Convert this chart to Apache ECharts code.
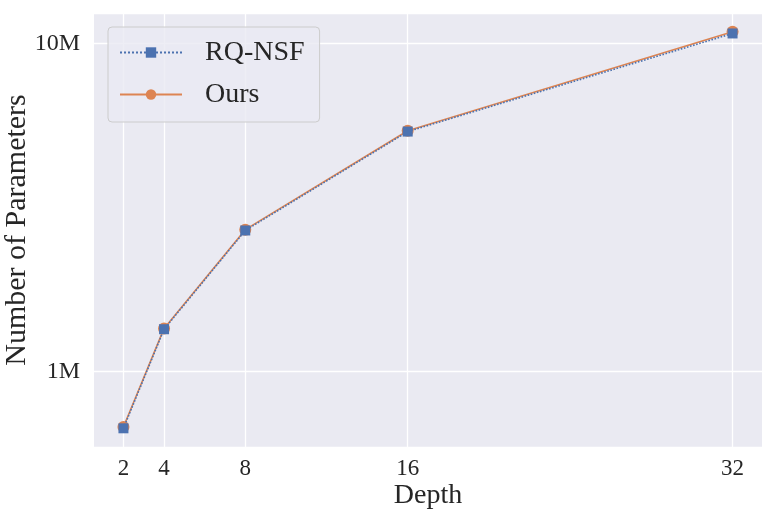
<!DOCTYPE html>
<html><head><meta charset="utf-8">
<script src="https://cdn.jsdelivr.net/npm/echarts@6/dist/echarts.min.js"></script>
<style>html,body{margin:0;padding:0;background:#fff}#c{width:775px;height:519px}</style>
</head><body><div id="c"></div>
<script>
const depths = [2, 4, 8, 16, 32];
const rqnsf = [670000, 1344000, 2690000, 5390000, 10740000];
const ours = [676000, 1352000, 2705000, 5420000, 10870000];
const xTicks = [2, 4, 8, 16, 32];
const yTicks = [1000000, 10000000];
const yTickLabels = ['1M', '10M'];
const seriesNames = ['RQ-NSF', 'Ours'];

const FONT = 'Liberation Serif';
const TXT = '#262626';
const chart = echarts.init(document.getElementById('c'), null, {renderer: 'canvas'});

function pairs(vals) { return depths.map((d, i) => [d, vals[i]]); }
function yLabel(v) {
  for (let i = 0; i < yTicks.length; i++) {
    if (Math.abs(v - yTicks[i]) / yTicks[i] < 1e-6) return yTickLabels[i];
  }
  return '';
}

chart.setOption({
  animation: false,
  backgroundColor: '#ffffff',
  grid: {left: 94, right: 13, top: 13, bottom: 72, show: true, backgroundColor: '#EAEAF2', borderWidth: 0,
         containLabel: false, outerBoundsMode: 'none'},
  legend: {
    data: seriesNames,
    orient: 'vertical',
    left: 108, top: 27,
    padding: [10, 15, 12, 11],
    itemGap: 11,
    itemWidth: 62, itemHeight: 13,
    backgroundColor: 'rgba(234,234,242,0.8)',
    borderColor: '#cccccc', borderWidth: 1, borderRadius: 4,
    selectedMode: false,
    textStyle: {fontFamily: FONT, fontSize: 28, lineHeight: 31, color: TXT, padding: [0, 0, 0, 18]}
  },
  xAxis: {
    type: 'value', min: 0.55, max: 33.45,
    name: 'Depth', nameLocation: 'middle', nameGap: 35, nameMoveOverlap: false,
    nameTextStyle: {fontFamily: FONT, fontSize: 28, color: TXT},
    axisLine: {show: false},
    axisTick: {show: false, customValues: xTicks},
    axisLabel: {customValues: xTicks, fontFamily: FONT, fontSize: 23, color: TXT, margin: 10},
    splitLine: {show: true, lineStyle: {color: '#ffffff', width: 1.3}}
  },
  yAxis: {
    type: 'log', logBase: 10, min: 587500, max: 12400000,
    name: 'Number of Parameters', nameLocation: 'middle', nameGap: 62, nameRotate: 90, nameMoveOverlap: false,
    nameTextStyle: {fontFamily: FONT, fontSize: 30, color: TXT},
    axisLine: {show: false},
    axisTick: {show: false},
    axisLabel: {formatter: yLabel, fontFamily: FONT, fontSize: 24, color: TXT, margin: 14, showMinLabel: false, showMaxLabel: false},
    splitLine: {show: true, lineStyle: {color: '#ffffff', width: 1.3}},
    minorSplitLine: {show: false}
  },
  series: [
    {
      name: 'Ours', type: 'line', data: pairs(ours),
      symbol: 'circle', symbolSize: 12,
      itemStyle: {color: '#DD8452'},
      lineStyle: {color: '#DD8452', width: 1.6, type: 'solid'},
      emphasis: {disabled: true}, z: 2
    },
    {
      name: 'RQ-NSF', type: 'line', data: pairs(rqnsf),
      symbol: 'rect', symbolSize: 10,
      itemStyle: {color: '#4C72B0'},
      lineStyle: {color: '#4C72B0', width: 1.6, type: 'dotted'},
      emphasis: {disabled: true}, z: 3
    }
  ]
});
</script></body></html>
